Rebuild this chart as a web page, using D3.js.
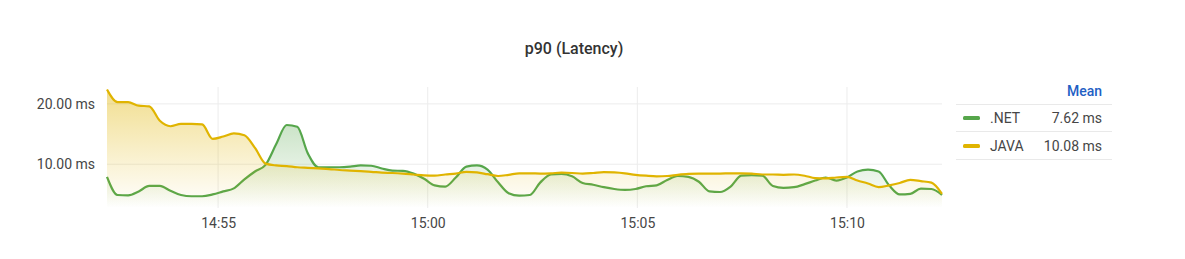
<!DOCTYPE html>
<html>
<head>
<meta charset="utf-8">
<script src="https://cdn.jsdelivr.net/npm/d3@7"></script>
<style>
  html, body { margin: 0; padding: 0; background: #ffffff; }
  svg { display: block; font-family: Roboto, "Noto Sans", sans-serif; }
</style>
</head>
<body>
<svg id="chart" width="1185" height="259"></svg>
<script>
// ---- data ----
const seriesNames = [".NET", "JAVA"];
const seriesColors = ["#56A64B", "#E0B400"];
const meanLabels = ["7.62 ms", "10.08 ms"];
const startTime = [14, 52, 21];
const endTime = [15, 12, 16];
const yTickValues = [10, 20];

const netValues = [
  7.9, 4.9, 4.85, 5.5, 6.4, 6.4, 5.6, 4.9, 4.7, 4.7,
  5.0, 5.5, 6.0, 7.5, 8.8, 9.9, 13.3, 16.5, 16.2, 11.8,
  9.5, 9.5, 9.5, 9.6, 9.8, 9.75, 9.3, 8.95, 8.9, 8.45,
  7.6, 6.5, 6.3, 7.8, 9.6, 9.8, 9.1, 7.0, 5.2, 4.8,
  4.9, 7.0, 8.3, 8.4, 8.0, 6.9, 6.6, 6.2, 5.9, 5.75,
  5.9, 6.35, 6.5, 7.4, 8.05, 7.9, 7.1, 5.5, 5.4, 6.3,
  8.1, 8.2, 8.1, 6.4, 6.1, 6.2, 6.7, 7.3, 7.8, 7.3,
  7.8, 8.8, 9.1, 8.8, 6.5, 5.0, 5.1, 5.95, 5.9, 4.9
];
const javaValues = [
  22.4, 20.3, 20.3, 19.7, 19.6, 17.2, 16.3, 16.7, 16.7, 16.6,
  14.2, 14.6, 15.1, 14.8, 12.7, 10.1, 9.8, 9.7, 9.5, 9.4,
  9.3, 9.2, 9.05, 8.95, 8.85, 8.75, 8.6, 8.55, 8.45, 8.3,
  8.15, 8.1, 8.3, 8.45, 8.75, 8.65, 8.35, 8.05, 8.25, 8.5,
  8.5, 8.45, 8.5, 8.6, 8.55, 8.45, 8.55, 8.7, 8.65, 8.5,
  8.25, 8.1, 8.0, 8.05, 8.25, 8.4, 8.45, 8.45, 8.45, 8.5,
  8.5, 8.45, 8.3, 8.3, 8.25, 8.3, 8.1, 7.7, 7.65, 7.8,
  7.9, 7.3, 6.8, 6.2, 6.5, 6.9, 7.4, 7.2, 6.95, 5.1
];
const seriesValues = [netValues, javaValues];

// ---- layout ----
const svg = d3.select("#chart");
const plot = { left: 107, right: 942, top: 87, bottom: 208 };
const yMin = 2.75, yMax = 22.8;

const t0 = new Date(2024, 0, 1, startTime[0], startTime[1], startTime[2]);
const t1 = new Date(2024, 0, 1, endTime[0], endTime[1], endTime[2]);
const N = netValues.length;
const times = d3.range(N).map(i => new Date(+t0 + i * (t1 - t0) / (N - 1)));

const x = d3.scaleTime().domain([t0, t1]).range([plot.left, plot.right]);
const y = d3.scaleLinear().domain([yMin, yMax]).range([plot.bottom, plot.top]);

// title
svg.append("text")
  .attr("x", 574).attr("y", 54)
  .attr("text-anchor", "middle")
  .attr("font-size", 16).attr("font-weight", 500)
  .attr("fill", "#333")
  .text("p90 (Latency)");

// gridlines
const xTicks = x.ticks(d3.timeMinute.every(5));
const gridColor = "#ececec";
svg.append("g").selectAll("line").data(yTickValues).join("line")
  .attr("x1", plot.left).attr("x2", plot.right)
  .attr("y1", d => y(d)).attr("y2", d => y(d))
  .attr("stroke", gridColor).attr("stroke-width", 1);
svg.append("g").selectAll("line").data(xTicks).join("line")
  .attr("x1", d => x(d)).attr("x2", d => x(d))
  .attr("y1", plot.top).attr("y2", plot.bottom)
  .attr("stroke", gridColor).attr("stroke-width", 1);

// axes (labels only)
const yAxis = d3.axisLeft(y).tickValues(yTickValues)
  .tickFormat(d => d3.format(".2f")(d) + " ms").tickSize(0).tickPadding(12);
const gy = svg.append("g").attr("transform", `translate(${plot.left},0)`).call(yAxis);
gy.select(".domain").remove();
gy.selectAll("text").attr("font-size", 14).attr("fill", "#464646")
  .attr("font-family", "Roboto, sans-serif").attr("dy", "0.3em");

const xAxis = d3.axisBottom(x).tickValues(xTicks)
  .tickFormat(d3.timeFormat("%H:%M")).tickSize(0).tickPadding(10);
const gx = svg.append("g").attr("transform", `translate(0,${plot.bottom})`).call(xAxis);
gx.select(".domain").remove();
gx.selectAll("text").attr("font-size", 14).attr("fill", "#464646")
  .attr("font-family", "Roboto, sans-serif");

// gradients
const defs = svg.append("defs");
seriesColors.forEach((c, i) => {
  const g = defs.append("linearGradient")
    .attr("id", "grad" + i).attr("gradientUnits", "userSpaceOnUse")
    .attr("x1", 0).attr("x2", 0).attr("y1", plot.top).attr("y2", plot.bottom);
  g.append("stop").attr("offset", 0).attr("stop-color", c).attr("stop-opacity", 0.45);
  g.append("stop").attr("offset", 1).attr("stop-color", c).attr("stop-opacity", 0);
});

const curve = d3.curveMonotoneX;
seriesValues.forEach((vals, si) => {
  const pts = vals.map((v, i) => [times[i], v]);
  const area = d3.area().curve(curve)
    .x(d => x(d[0])).y0(plot.bottom).y1(d => y(d[1]));
  const line = d3.line().curve(curve).x(d => x(d[0])).y(d => y(d[1]));
  svg.append("path").datum(pts).attr("d", area).attr("fill", `url(#grad${si})`);
  svg.append("path").datum(pts).attr("d", line)
    .attr("fill", "none").attr("stroke", seriesColors[si])
    .attr("stroke-width", 2.2).attr("stroke-linejoin", "round");
});

// legend
const lg = svg.append("g");
const lgLeft = 956, lgRight = 1112, valRight = 1102;
lg.append("text").attr("x", valRight).attr("y", 95.5)
  .attr("text-anchor", "end").attr("font-size", 14).attr("font-weight", 500)
  .attr("fill", "#1F60C4").text("Mean");
[104.5, 131.5, 159.5].forEach(yy => {
  lg.append("line").attr("x1", lgLeft).attr("x2", lgRight)
    .attr("y1", yy).attr("y2", yy).attr("stroke", "#e9e9e9").attr("stroke-width", 1);
});
const rowY = [118, 146];
seriesNames.forEach((name, i) => {
  lg.append("rect").attr("x", 963).attr("y", rowY[i] - 2).attr("width", 17).attr("height", 4)
    .attr("rx", 1.5).attr("fill", seriesColors[i]);
  lg.append("text").attr("x", 990).attr("y", rowY[i] + 5)
    .attr("font-size", 14).attr("fill", "#464646").text(name);
  lg.append("text").attr("x", valRight).attr("y", rowY[i] + 5)
    .attr("text-anchor", "end").attr("font-size", 14).attr("fill", "#464646").text(meanLabels[i]);
});
</script>
</body>
</html>
